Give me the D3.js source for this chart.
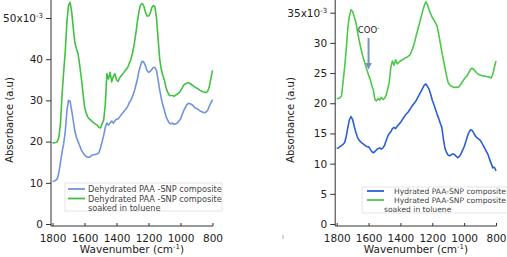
<!DOCTYPE html>
<html>
<head>
<meta charset="utf-8">
<script src="https://cdn.jsdelivr.net/npm/d3@7"></script>
<style>
  body { margin: 0; background: #fff; }
  svg { display: block; font-family: "DejaVu Sans", sans-serif; }
</style>
</head>
<body>
<div id="chart"></div>
<script>
// wavenumber grid (cm-1), shared by all four spectra
const wavenumbers = [
  1800, 1790, 1780, 1770, 1760, 1750, 1740, 1730, 1720, 1710,
  1700, 1690, 1680, 1670, 1660, 1650, 1640, 1630, 1620, 1610,
  1600, 1590, 1580, 1570, 1560, 1550, 1540, 1530, 1520, 1510,
  1500, 1490, 1480, 1470, 1460, 1450, 1440, 1430, 1420, 1410,
  1400, 1390, 1380, 1370, 1360, 1350, 1340, 1330, 1320, 1310,
  1300, 1290, 1280, 1270, 1260, 1250, 1240, 1230, 1220, 1210,
  1200, 1190, 1180, 1170, 1160, 1150, 1140, 1130, 1120, 1110,
  1100, 1090, 1080, 1070, 1060, 1050, 1040, 1030, 1020, 1010,
  1000, 990, 980, 970, 960, 950, 940, 930, 920, 910,
  900, 890, 880, 870, 860, 850, 840, 830, 820, 810,
  800
]

// absorbance x10^-3
const dehydrated = [
  10.3, 10.4, 10.6, 11, 12.5, 15, 17.5, 19.5, 22.5, 27.5,
  30, 29.8, 27.5, 25, 22.5, 21, 20, 19, 18, 17.3,
  16.8, 16.4, 16.2, 16.2, 16.5, 16.8, 16.8, 16.9, 17, 17.3,
  18.5, 20, 21.5, 23.5, 24.5, 24, 24.5, 25, 24.5, 25,
  25.5, 25.5, 26, 26.5, 27, 27.5, 28, 28.5, 29.5, 30,
  31, 32, 33.5, 35, 37, 38.5, 39.5, 39.3, 38.5, 37.3,
  36.8, 37, 37.5, 38, 38, 37.3, 35, 32.5, 30.5, 28.8,
  27.5, 26, 25.2, 24.5, 24.3, 24.5, 24.2, 24.3, 24.5, 25,
  25.5, 26.5, 27.5, 28.3, 29, 29.3, 29.2, 29, 28.7, 28.2,
  28, 27.8, 27.5, 27.3, 27.1, 27, 27.2, 27.6, 28.6, 29.4,
  30.2
]
const dehydratedToluene = [
  19.7, 19.7, 19.8, 20, 21, 24.5, 31.5, 37, 42, 49,
  53, 53.8, 51.5, 47.5, 44, 42.5, 41.3, 38.5, 35.5, 32,
  28.5, 27, 26, 25.5, 25.2, 24.8, 24.5, 24.2, 24, 23.5,
  23.3, 24.3, 25.2, 29, 36.5, 35.2, 36.8, 34.5, 35.8, 36.5,
  35, 34.6, 35.5, 36, 36.5, 37, 37.5, 38, 39, 40,
  41.5, 43.5, 46, 49, 51.5, 53.2, 53.5, 53, 51.5, 50.5,
  50.5, 51, 52.5, 53, 52.8, 50, 45, 40, 37.5, 36,
  34.8, 33, 32, 31.2, 31.2, 31.2, 31, 31.3, 31.5, 31.8,
  32.3, 33, 33.7, 34, 34.2, 34.3, 34.1, 33.8, 33.5, 33.2,
  33, 32.8, 32.5, 32.3, 32.1, 32, 31.9, 32.2, 33.3, 35.3,
  37.3
]
const hydrated = [
  12.5, 12.6, 12.8, 13, 13.2, 13.5, 14.5, 16, 17.3, 17.8,
  17.3, 16.2, 15.2, 14.4, 13.9, 13.6, 13.4, 13.2, 13, 12.8,
  12.8, 12.4, 12, 11.8, 12, 12.3, 12.5, 12.6, 12.4, 12.6,
  13, 13.8, 14.5, 15, 15.3, 15.8, 16, 15.8, 16.2, 16.5,
  16.8, 17.2, 17.6, 18, 18.3, 18.6, 19, 19.4, 19.8, 20.1,
  20.5, 21, 21.5, 22, 22.5, 23, 23.2, 22.8, 22.3, 21.5,
  20.5, 19.8, 19, 18.2, 17.5, 16.7, 16, 14, 12.5, 11.8,
  11.4, 11.3, 11.5, 11.6, 11.5, 11.2, 11, 11.2, 11.6, 12.2,
  12.8, 13.6, 14.5, 15.2, 15.6, 15.5, 15.1, 14.6, 14.3, 14.1,
  13.9, 13.5, 13, 12.5, 12, 11.5, 10.7, 10, 9.3, 9.4,
  8.8
]
const hydratedToluene = [
  20.8, 20.8, 20.9, 21.2, 23.5, 26, 29, 32.5, 34.5, 35.5,
  35.2, 34.3, 33.5, 32, 30.5, 29.3, 28.2, 27.2, 26.4, 25.5,
  24.7, 24, 23, 22.2, 20.6, 20.4, 20.8, 20.5, 21, 20.6,
  20.8, 21.3, 22.3, 23.5, 26, 27, 26.3, 27.2, 26.5, 26.8,
  27, 27.2, 27.3, 27.5, 27.6, 27.8, 28, 28.6, 29.3, 30.2,
  31.3, 32.3, 33.3, 34.3, 35.3, 36.2, 36.8, 36.3, 35.5, 34.8,
  34.2, 33.8, 33.3, 32.8, 31.5, 30, 28.5, 27.2, 25.8, 24.5,
  23.4, 23, 22.8, 22.7, 22.6, 22.7, 22.6, 22.8, 23.2, 23.6,
  24, 24.3, 24.6, 25.1, 25.6, 25.8, 25.6, 25.3, 25, 24.8,
  24.7, 24.6, 24.5, 24.5, 24.4, 24.4, 24.3, 24.2, 24.8, 26,
  27
]

const xTicks = [1800, 1600, 1400, 1200, 1000, 800]
const leftYTicks = [0, 10, 20, 30, 40, 50]
const rightYTicks = [0, 5, 10, 15, 20, 25, 30, 35]

const width = 507
const height = 257

const svg = d3.select('#chart')
  .append('svg')
  .attr('width', width)
  .attr('height', height)
  .attr('viewBox', [0, 0, width, height])

function drawPanel({ x0, x1, yTop, yMax, yTicks, series, legend, titleX, labelX }) {
  const x = d3.scaleLinear().domain([1800, 800]).range([x0, x1])
  const y = d3.scaleLinear().domain([0, yMax]).range([224, yTop])
  const axisX = x0 - 1.5
  const g = svg.append('g')

  // y axis
  g.append('line')
    .attr('x1', axisX).attr('x2', axisX)
    .attr('y1', 0).attr('y2', 226)
    .attr('stroke', '#333').attr('stroke-width', 1)

  const yAxis = g.append('g')
    .attr('transform', `translate(${axisX},0)`)
    .call(d3.axisLeft(y).tickValues(yTicks).tickSize(5).tickPadding(3)
      .tickFormat(d => d === yTicks[yTicks.length - 1] ? '' : d))
  yAxis.select('.domain').remove()
  yAxis.selectAll('line').attr('stroke', '#333')
  yAxis.selectAll('text').attr('font-size', 10.5).attr('fill', '#222')
    .attr('font-family', '"DejaVu Sans", sans-serif')

  // top label with x10^-3
  const top = yTicks[yTicks.length - 1]
  const t = g.append('text')
    .attr('x', axisX - 8).attr('y', y(top) + 4)
    .attr('text-anchor', 'end').attr('font-size', 10.5).attr('fill', '#222')
  t.append('tspan').text(top + 'x10')
  t.append('tspan').attr('dy', -4).attr('font-size', 7).text('-3')

  // x axis
  g.append('line')
    .attr('x1', axisX).attr('x2', x1 + 0.5)
    .attr('y1', 226).attr('y2', 226)
    .attr('stroke', '#333')
  const xAxis = g.append('g')
    .attr('transform', 'translate(0,226)')
    .call(d3.axisBottom(x).tickValues(xTicks).tickSize(-3).tickPadding(9)
      .tickFormat(d3.format('d')))
  xAxis.select('.domain').remove()
  xAxis.selectAll('line').attr('stroke', '#333')
  xAxis.selectAll('text').attr('font-size', 10.5).attr('fill', '#222')
    .attr('font-family', '"DejaVu Sans", sans-serif')

  // axis titles
  const xt = g.append('text')
    .attr('x', titleX).attr('y', 253)
    .attr('text-anchor', 'middle').attr('font-size', 10.5).attr('fill', '#222')
  xt.append('tspan').text('Wavenumber (cm')
  xt.append('tspan').attr('dy', -4).attr('font-size', 7).text('-1')
  xt.append('tspan').attr('dy', 4).text(')')

  g.append('text')
    .attr('transform', `translate(${labelX},120) rotate(-90)`)
    .attr('text-anchor', 'middle').attr('font-size', 10).attr('fill', '#222')
    .text('Absorbance (a.u)')

  // spectra
  const line = d3.line()
    .x((d, i) => x(wavenumbers[i]))
    .y(d => y(d))
  series.forEach(s => {
    g.append('path')
      .datum(s.values)
      .attr('fill', 'none')
      .attr('stroke', s.color)
      .attr('stroke-width', 1.6)
      .attr('stroke-linejoin', 'round')
      .attr('d', line)
  })

  // legend
  const lg = g.append('g')
  lg.append('rect')
    .attr('x', legend.x).attr('y', legend.y)
    .attr('width', legend.w).attr('height', legend.h)
    .attr('fill', '#fff').attr('fill-opacity', 0.9)
    .attr('stroke', '#e4e4e4')
  series.forEach((s, i) => {
    const ly = legend.y + legend.first + i * legend.step
    lg.append('line')
      .attr('x1', legend.lx0).attr('x2', legend.lx1)
      .attr('y1', ly).attr('y2', ly)
      .attr('stroke', s.color).attr('stroke-width', 1.8)
    lg.append('text')
      .attr('x', legend.tx).attr('y', ly + 3)
      .attr('font-size', legend.fs).attr('fill', '#444')
      .text(s.name)
  })
  lg.append('text')
    .attr('x', legend.sx).attr('y', legend.y + legend.first + 2 * legend.step + 3)
    .attr('font-size', legend.fs).attr('fill', '#444')
    .text('soaked in toluene')

  return { x, y }
}

drawPanel({
  x0: 52.5, x1: 212.5, yTop: 18, yMax: 50,
  yTicks: leftYTicks,
  titleX: 132, labelX: 13,
  series: [
    { name: 'Dehydrated PAA -SNP composite', values: dehydrated, color: '#7093df' },
    { name: 'Dehydrated PAA -SNP composite', values: dehydratedToluene, color: '#41c141' }
  ],
  legend: { x: 65, y: 183, w: 157, h: 28, first: 6, step: 9.5,
    lx0: 68, lx1: 85, tx: 88, sx: 88, fs: 8.2 }
})

const right = drawPanel({
  x0: 336.7, x1: 496, yTop: 12.7, yMax: 35,
  yTicks: rightYTicks,
  titleX: 416, labelX: 294,
  series: [
    { name: 'Hydrated PAA-SNP composite', values: hydrated, color: '#2c5fd6' },
    { name: 'Hydrated PAA-SNP composite', values: hydratedToluene, color: '#4cc84c' }
  ],
  legend: { x: 362, y: 187, w: 150, h: 26, first: 4, step: 9,
    lx0: 367, lx1: 384, tx: 394, sx: 384, fs: 7.6 }
})

// COO- annotation
const ax = right.x(1600)
const ann = svg.append('text')
  .attr('x', ax).attr('y', 33)
  .attr('text-anchor', 'middle').attr('font-size', 8.5).attr('fill', '#222')
ann.append('tspan').text('COO')
ann.append('tspan').attr('dy', -3).attr('font-size', 6).text('-')

svg.append('defs').append('marker')
  .attr('id', 'arrow')
  .attr('viewBox', '0 0 10 10')
  .attr('refX', 2).attr('refY', 5)
  .attr('markerWidth', 3.5).attr('markerHeight', 3.5)
  .attr('orient', 'auto')
  .append('path')
  .attr('d', 'M0,0 L10,5 L0,10 z')
  .attr('fill', '#7894b4')

svg.append('line')
  .attr('x1', ax).attr('x2', ax)
  .attr('y1', 38).attr('y2', 64)
  .attr('stroke', '#7894b4').attr('stroke-width', 2)
  .attr('marker-end', 'url(#arrow)')

// small stray mark left of the right panel
svg.append('line')
  .attr('x1', 283).attr('x2', 283)
  .attr('y1', 235).attr('y2', 239)
  .attr('stroke', '#aaa')
</script>
</body>
</html>
